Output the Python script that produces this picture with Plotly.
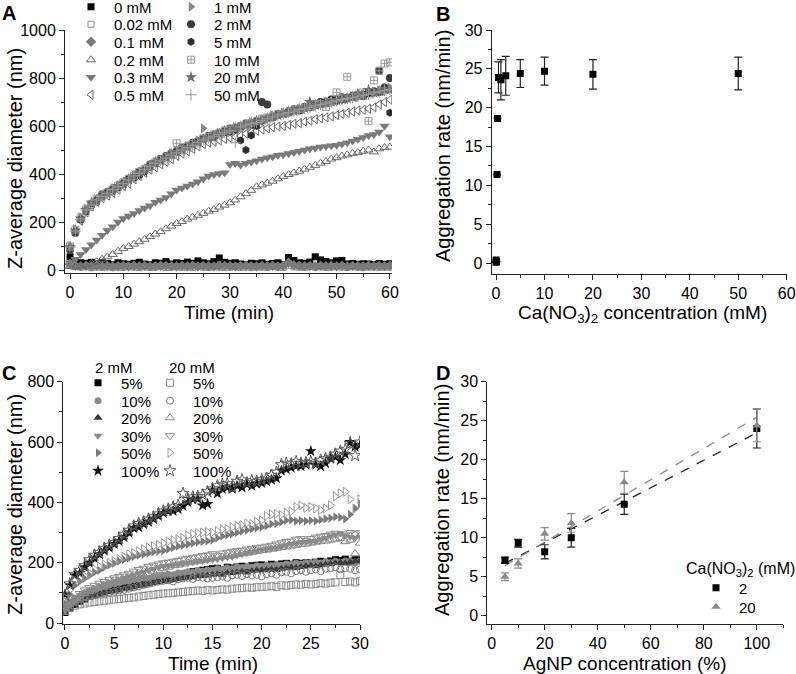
import numpy as np
import plotly.graph_objects as go

FONT = "Liberation Sans, Arial, sans-serif"
W, H = 796, 674

# ---------------- Panel A: Z-average diameter vs time, Ca(NO3)2 series
T_A = list(range(61))

A_0 = [55, 35, 30, 28, 32, 25, 30, 27, 22, 30,
       26, 24, 28, 32, 25, 22, 30, 28, 35, 25,
       30, 27, 33, 28, 38, 30, 26, 35, 50, 32,
       28, 30, 25, 22, 28, 26, 30, 24, 27, 30,
       22, 52, 40, 30, 28, 33, 55, 42, 35, 30,
       38, 40, 25, 27, 24, 26, 25, 23, 27, 24,
       26]
A_002 = [20, 15, 12, 14, 10, 12, 11, 13, 10, 12,
         11, 14, 12, 10, 13, 11, 12, 14, 10, 12,
         13, 11, 12, 10, 14, 12, 11, 13, 12, 10,
         12, 14, 11, 12, 10, 13, 12, 11, 14, 12,
         11, 18, 13, 12, 11, 14, 12, 13, 11, 12,
         14, 12, 11, 13, 12, 10, 12, 13, 11, 12,
         12]
A_01 = [25, 18, 16, 17, 15, 18, 16, 17, 15, 16,
        17, 15, 18, 16, 17, 15, 16, 18, 17, 16,
        15, 17, 16, 18, 15, 17, 16, 15, 18, 17,
        16, 15, 17, 18, 16, 15, 17, 16, 18, 15,
        17, 30, 20, 18, 16, 17, 15, 18, 16, 17,
        16, 18, 15, 17, 16, 15, 18, 16, 17, 16,
        17]
A_02 = [15, 12, 18, 22, 28, 35, 45, 55, 65, 78,
        90, 98, 108, 118, 128, 139, 150, 160, 172, 183,
        194, 202, 212, 220, 228, 236, 245, 252, 262, 270,
        280, 292, 305, 318, 332, 347, 355, 362, 370, 380,
        390, 398, 405, 412, 420, 428, 436, 445, 452, 462,
        468, 475, 480, 486, 490, 495, 500, 492, 505, 510,
        512]
A_03 = [30, 45, 65, 85, 105, 125, 145, 165, 180, 200,
        215, 225, 235, 248, 258, 268, 282, 292, 302, 318,
        333, 342, 350, 358, 368, 380, 392, 398, 402, 405,
        440, 445, 438, 445, 450, 455, 462, 468, 472, 478,
        480, 485, 490, 495, 500, 505, 508, 512, 515, 518,
        520, 525, 530, 538, 545, 552, 560, 565, 575, 600,
        555]
A_05 = [90, 160, 205, 240, 265, 285, 300, 310, 322, 335,
        350, 360, 378, 392, 405, 418, 428, 440, 450, 462,
        475, 485, 495, 505, 515, 525, 530, 535, 540, 545,
        550, 555, 560, 568, 575, 580, 585, 590, 595, 598,
        600, 605, 610, 612, 618, 622, 628, 632, 636, 640,
        645, 650, 655, 660, 665, 668, 672, 678, 690, 700,
        710]
A_1 = [100, 170, 220, 255, 270, 295, 312, 318, 340, 352,
       365, 372, 395, 400, 420, 435, 450, 460, 470, 485,
       498, 505, 518, 525, 540, 590, 555, 565, 570, 580,
       585, 595, 592, 608, 615, 620, 628, 630, 645, 642,
       655, 660, 662, 672, 670, 685, 682, 695, 700, 698,
       710, 715, 712, 725, 720, 730, 738, 735, 748, 745,
       760]
A_2 = [85, 155, 210, 245, 275, 290, 315, 325, 330, 345,
       360, 380, 385, 410, 415, 440, 445, 462, 475, 480,
       495, 510, 515, 530, 535, 548, 558, 555, 572, 575,
       590, 585, 600, 610, 605, 620, 700, 690, 635, 650,
       650, 655, 670, 665, 680, 678, 690, 700, 695, 710,
       705, 720, 715, 725, 730, 725, 740, 745, 830, 760,
       800]
A_5 = [92, 160, 212, 248, 270, 290, 305, 322, 338, 345,
       358, 378, 388, 395, 410, 428, 445, 455, 470, 488,
       492, 505, 515, 525, 535, 545, 552, 562, 568, 580,
       575, 585, 540, 500, 560, 600, 620, 630, 640, 648,
       650, 662, 668, 670, 678, 682, 688, 690, 700, 705,
       712, 708, 720, 718, 726, 732, 735, 742, 740, 755,
       655]
A_10 = [98, 168, 218, 252, 275, 295, 310, 322, 336, 350,
        365, 380, 392, 408, 420, 435, 448, 460, 470, 482,
        528, 502, 514, 525, 535, 548, 555, 565, 572, 580,
        585, 592, 598, 606, 612, 620, 628, 635, 640, 648,
        650, 658, 665, 670, 676, 682, 688, 692, 680, 700,
        740, 715, 805, 720, 730, 740, 620, 790, 830, 860,
        865]
A_20 = [95, 165, 215, 250, 280, 290, 310, 320, 335, 350,
        362, 378, 390, 405, 418, 435, 450, 455, 468, 482,
        492, 500, 512, 522, 532, 545, 550, 560, 568, 578,
        582, 590, 598, 602, 612, 620, 625, 632, 640, 645,
        652, 660, 662, 672, 675, 700, 688, 692, 698, 705,
        708, 712, 715, 722, 735, 728, 750, 738, 745, 755,
        750]
A_50 = [96, 162, 212, 250, 270, 292, 306, 318, 335, 347,
        360, 375, 392, 403, 418, 432, 444, 455, 466, 478,
        488, 500, 510, 520, 532, 542, 550, 557, 565, 572,
        580, 530, 596, 604, 610, 615, 622, 630, 638, 645,
        650, 656, 662, 668, 672, 678, 685, 690, 695, 700,
        705, 710, 714, 718, 722, 728, 732, 738, 742, 748,
        752]

# ---------------- Panel B: aggregation rate vs Ca(NO3)2
B_CONC = [0, 0.02, 0.1, 0.2, 0.3, 0.5, 1, 2, 5, 10, 20, 50]
B_RATE = [0.1, 0.4, 0.2, 11.4, 18.6, 23.9, 23.6, 24.1, 24.4, 24.7, 24.3, 24.4]
B_ERR = [0, 0, 0, 0, 0, 2.0, 2.6, 2.5, 1.8, 1.8, 1.9, 2.1]

# ---------------- Panel C: Z-average diameter vs time, AgNP concentration
T_C = [i * 0.5 for i in range(61)]

C2_5 = [35, 50, 62, 72, 80, 88, 95, 100, 106, 110,
        115, 118, 122, 125, 128, 132, 136, 140, 143, 146,
        150, 153, 156, 160, 163, 166, 170, 172, 175, 178,
        180, 182, 178, 185, 183, 186, 188, 185, 190, 192,
        193, 190, 195, 192, 196, 198, 195, 200, 198, 200,
        199, 202, 205, 200, 206, 210, 208, 212, 205, 210,
        210]
C2_10 = [55, 70, 82, 90, 100, 106, 110, 118, 120, 126,
         130, 133, 138, 139, 144, 145, 150, 148, 154, 155,
         158, 162, 160, 166, 165, 170, 168, 174, 172, 176,
         175, 180, 178, 183, 180, 186, 184, 188, 185, 190,
         188, 192, 190, 194, 192, 196, 194, 198, 195, 200,
         198, 202, 199, 204, 200, 205, 202, 206, 204, 200,
         205]
C2_20 = [35, 50, 62, 72, 80, 86, 90, 95, 98, 102,
         105, 108, 112, 115, 118, 122, 125, 128, 132, 135,
         138, 140, 142, 145, 148, 150, 152, 155, 156, 158,
         160, 162, 160, 165, 166, 168, 170, 168, 172, 174,
         175, 176, 178, 176, 180, 182, 184, 183, 186, 188,
         190, 188, 192, 194, 196, 198, 200, 198, 202, 205,
         206]
C2_30 = [40, 60, 75, 85, 100, 108, 115, 122, 130, 135,
         140, 145, 150, 155, 160, 165, 170, 175, 180, 185,
         188, 190, 192, 195, 198, 200, 202, 205, 206, 208,
         210, 212, 215, 218, 220, 225, 228, 232, 236, 240,
         243, 245, 248, 250, 255, 258, 262, 265, 268, 270,
         270, 272, 278, 282, 288, 292, 298, 290, 285, 282,
         287]
C2_50 = [65, 95, 125, 138, 148, 158, 168, 175, 185, 192,
         198, 205, 210, 215, 220, 225, 228, 232, 236, 238,
         240, 245, 250, 255, 258, 262, 265, 268, 270, 272,
         275, 282, 288, 292, 296, 300, 305, 308, 312, 315,
         318, 322, 328, 330, 335, 340, 342, 338, 340, 338,
         340, 338, 342, 345, 348, 352, 350, 345, 360, 380,
         395]
C2_100 = [95, 125, 158, 165, 185, 200, 215, 228, 240, 250,
          262, 272, 285, 300, 315, 318, 328, 335, 345, 355,
          365, 370, 372, 378, 388, 400, 410, 412, 390, 395,
          440, 430, 445, 450, 445, 455, 450, 460, 455, 462,
          465, 470, 475, 480, 505, 510, 515, 520, 520, 525,
          570, 525, 520, 530, 545, 550, 540, 560, 600, 585,
          590]
C20_5 = [40, 52, 58, 62, 65, 68, 70, 72, 74, 76,
         78, 80, 82, 84, 85, 88, 90, 92, 94, 96,
         98, 99, 100, 102, 103, 105, 106, 108, 107, 110,
         108, 110, 112, 111, 114, 115, 116, 118, 117, 119,
         120, 121, 122, 120, 125, 124, 126, 128, 127, 130,
         128, 130, 132, 131, 134, 135, 160, 136, 138, 135,
         140]
C20_10 = [48, 62, 72, 80, 86, 90, 94, 97, 100, 102,
          104, 108, 110, 114, 118, 122, 126, 130, 134, 138,
          140, 142, 138, 145, 148, 150, 146, 152, 150, 148,
          150, 152, 155, 150, 158, 160, 156, 162, 158, 160,
          155, 162, 165, 160, 168, 170, 165, 172, 175, 170,
          175, 178, 172, 180, 182, 185, 178, 182, 180, 175,
          178]
C20_20 = [50, 68, 80, 90, 98, 105, 112, 118, 122, 128,
          132, 136, 140, 145, 150, 155, 160, 165, 170, 175,
          180, 185, 190, 192, 196, 200, 202, 205, 208, 212,
          215, 218, 220, 222, 225, 228, 230, 232, 235, 238,
          240, 242, 245, 248, 250, 252, 255, 258, 260, 262,
          265, 268, 270, 272, 275, 278, 280, 270, 275, 230,
          265]
C20_30 = [50, 70, 85, 98, 110, 118, 125, 132, 138, 145,
          150, 155, 160, 165, 172, 178, 182, 188, 192, 196,
          200, 202, 205, 208, 212, 215, 218, 220, 224, 226,
          230, 225, 232, 235, 238, 240, 242, 245, 248, 250,
          252, 255, 258, 262, 266, 270, 272, 278, 280, 275,
          280, 285, 288, 290, 295, 298, 285, 292, 300, 295,
          300]
C20_50 = [85, 110, 140, 148, 155, 165, 178, 188, 195, 200,
          205, 212, 220, 228, 232, 238, 245, 250, 255, 260,
          265, 270, 275, 278, 282, 290, 295, 298, 300, 302,
          300, 305, 310, 312, 318, 322, 325, 330, 328, 335,
          340, 355, 360, 362, 358, 365, 370, 385, 390, 382,
          385, 380, 375, 380, 390, 420, 430, 435, 410, 380,
          410]
C20_100 = [92, 130, 162, 175, 190, 210, 225, 235, 248, 258,
           268, 280, 295, 308, 322, 330, 335, 345, 352, 362,
           372, 378, 385, 390, 430, 410, 418, 420, 425, 435,
           445, 455, 460, 462, 450, 470, 475, 465, 472, 470,
           475, 480, 490, 500, 525, 530, 528, 535, 530, 532,
           535, 530, 540, 545, 550, 560, 570, 575, 595, 555,
           600]

# ---------------- Panel D: aggregation rate vs AgNP concentration
D_AGNP = [5, 10, 20, 30, 50, 100]
D_RATE_2 = [7.1, 9.3, 8.2, 10.0, 14.3, 24.0]
D_ERR_2 = [0.4, 0.5, 0.9, 1.2, 1.3, 2.5]
D_RATE_20 = [5.0, 6.7, 10.5, 11.9, 17.1, 24.4]
D_ERR_20 = [0.5, 0.6, 0.8, 1.2, 1.4, 2.1]


def px(x):
    return x / W


def py(y):
    return 1 - y / H


fig = go.Figure()
legends = {}


def new_legend(mx, my):
    # one legend per row so that rows can sit as tight as in the original
    n = len(legends) + 1
    key = "legend" if n == 1 else "legend%d" % n
    legends[key] = dict(x=px(mx - 25), y=py(my), xanchor="left", yanchor="middle",
                        bgcolor="rgba(0,0,0,0)", itemwidth=36, itemclick=False,
                        font=dict(size=15, color="black", family=FONT))
    return key


def add_series(x, y, name, symbol, color, size, xa, ya, pos, lw=None):
    if lw is None:
        lw = 1 if "open" in symbol else 0
    fig.add_trace(go.Scatter(
        x=x, y=y, name=name, mode="markers", xaxis=xa, yaxis=ya, legend=new_legend(*pos),
        marker=dict(symbol=symbol, color=color, size=size,
                    line=dict(width=lw, color=color))))


ROWS_A = [7, 24.5, 42, 60, 77.5, 95]
ROWS_C = [383, 401, 418, 436, 453, 471]

# panel A
a_series = [
    (A_0, "0 mM", "square", "#000000", 7),
    (A_002, "0.02 mM", "square-open", "#8a8a8a", 6),
    (A_01, "0.1 mM", "diamond", "#7a7a7a", 8),
    (A_02, "0.2 mM", "triangle-up-open", "#6a6a6a", 8),
    (A_03, "0.3 mM", "triangle-down", "#7a7a7a", 9),
    (A_05, "0.5 mM", "triangle-left-open", "#6a6a6a", 8),
    (A_1, "1 mM", "triangle-right", "#8a8a8a", 9),
    (A_2, "2 mM", "circle", "#3c3c3c", 8),
    (A_5, "5 mM", "hexagon", "#2e2e2e", 8),
    (A_10, "10 mM", "square-cross-open", "#9a9a9a", 7),
    (A_20, "20 mM", "star", "#6e6e6e", 9),
    (A_50, "50 mM", "cross-thin-open", "#9a9a9a", 8),
]
for i, (y, name, sym, col, size) in enumerate(a_series):
    pos = (93 if i < 6 else 193, ROWS_A[i % 6])
    add_series(T_A, y, name, sym, col, size, "x", "y", pos)

# panel B
fig.add_trace(go.Scatter(
    x=B_CONC, y=B_RATE, mode="markers", xaxis="x2", yaxis="y2", showlegend=False,
    marker=dict(symbol="square", color="black", size=7),
    error_y=dict(type="data", array=B_ERR, color="#222222", thickness=1.2, width=4)))

# panel C
c_series = [
    (C2_5, "5%", "square", "#000000", 7),
    (C2_10, "10%", "circle", "#8a8a8a", 7),
    (C2_20, "20%", "triangle-up", "#3c3c3c", 8),
    (C2_30, "30%", "triangle-down", "#8a8a8a", 8),
    (C2_50, "50%", "triangle-right", "#7a7a7a", 8),
    (C2_100, "100%", "star", "#111111", 9),
    (C20_5, "5%", "square-open", "#8a8a8a", 7),
    (C20_10, "10%", "circle-open", "#7a7a7a", 7),
    (C20_20, "20%", "triangle-up-open", "#8a8a8a", 8),
    (C20_30, "30%", "triangle-down-open", "#8a8a8a", 8),
    (C20_50, "50%", "triangle-right-open", "#9a9a9a", 8),
    (C20_100, "100%", "star-open", "#5a5a5a", 9),
]
for i, (y, name, sym, col, size) in enumerate(c_series):
    pos = (100 if i < 6 else 172, ROWS_C[i % 6])
    add_series(T_C, y, name, sym, col, size, "x3", "y3", pos)

# panel D: linear fits first, then points
x_fit = np.array([min(D_AGNP), max(D_AGNP)])
for rates, col in [(D_RATE_2, "#222222"), (D_RATE_20, "#8a8a8a")]:
    k, b = np.polyfit(D_AGNP, rates, 1)
    fig.add_trace(go.Scatter(x=x_fit, y=k * x_fit + b, mode="lines", xaxis="x4", yaxis="y4",
                             showlegend=False, line=dict(color=col, width=1.3, dash="dash")))
fig.add_trace(go.Scatter(
    x=D_AGNP, y=D_RATE_2, name="2", mode="markers", xaxis="x4", yaxis="y4",
    legend=new_legend(718, 588), marker=dict(symbol="square", color="black", size=7),
    error_y=dict(type="data", array=D_ERR_2, color="#222222", thickness=1.2, width=4)))
fig.add_trace(go.Scatter(
    x=D_AGNP, y=D_RATE_20, name="20", mode="markers", xaxis="x4", yaxis="y4",
    legend=new_legend(718, 607), marker=dict(symbol="triangle-up", color="#8a8a8a", size=8),
    error_y=dict(type="data", array=D_ERR_20, color="#8a8a8a", thickness=1.2, width=4)))


def axis(x0, x1, rng, dtick, minor, anchor, vertical=False):
    dom = [py(x1), py(x0)] if vertical else [px(x0), px(x1)]
    return dict(domain=dom, range=rng, anchor=anchor, showline=True, linecolor="#222222",
                linewidth=1, ticks="outside", ticklen=5, tickwidth=1, tickcolor="#222222",
                tick0=0, dtick=dtick,
                minor=dict(ticks="outside", ticklen=3, tick0=0, dtick=minor, tickcolor="#222222"),
                showgrid=False, zeroline=False, fixedrange=True, automargin=False,
                tickfont=dict(size=16, color="black", family=FONT))


def note(text, x, y, size=19, angle=0, bold=False, xanchor="center", yanchor="middle"):
    if bold:
        text = "<b>" + text + "</b>"
    return dict(text=text, x=px(x), y=py(y), xref="paper", yref="paper", showarrow=False,
                textangle=angle, xanchor=xanchor, yanchor=yanchor,
                font=dict(size=size, color="black", family=FONT))


fig.update_layout(
    width=W, height=H, margin=dict(l=0, r=0, t=0, b=0, autoexpand=False),
    paper_bgcolor="white", plot_bgcolor="white",
    font=dict(family=FONT, color="black"),
    xaxis=axis(65, 392, [-0.94, 60.4], 10, 5, "y"),
    yaxis=axis(30, 273, [-12.5, 1000], 200, 100, "x", vertical=True),
    xaxis2=axis(491.7, 786.7, [-0.9, 60], 10, 5, "y2"),
    yaxis2=axis(30, 274, [-1.4, 30], 5, 2.5, "x2", vertical=True),
    xaxis3=axis(63.3, 360, [-0.17, 30], 5, 2.5, "y3"),
    yaxis3=axis(381.7, 624, [-3, 800], 200, 100, "x3", vertical=True),
    xaxis4=axis(487.3, 783.3, [-1.66, 110], 20, 10, "y4"),
    yaxis4=axis(381.7, 624, [-1.06, 30], 5, 2.5, "x4", vertical=True),
    annotations=[
        note("A", 0, 0, size=20, bold=True, xanchor="left", yanchor="top"),
        note("B", 434, 1, size=20, bold=True, xanchor="left", yanchor="top"),
        note("C", 0, 360, size=20, bold=True, xanchor="left", yanchor="top"),
        note("D", 434, 360, size=20, bold=True, xanchor="left", yanchor="top"),
        note("Z-average diameter (nm)", 15, 159, size=20, angle=-90),
        note("Time (min)", 229, 312),
        note("Aggregation rate (nm/min)", 443, 146, size=20, angle=-90),
        note("Ca(NO<sub>3</sub>)<sub>2</sub> concentration (mM)", 642, 314),
        note("Z-average diameter (nm)", 15, 505, size=20, angle=-90),
        note("Time (min)", 213, 663),
        note("Aggregation rate (nm/min)", 442, 500, size=20, angle=-90),
        note("AgNP concentration (%)", 624, 663),
        note("2 mM", 93, 367, size=15, xanchor="left"),
        note("20 mM", 167, 367, size=15, xanchor="left"),
        note("Ca(NO<sub>3</sub>)<sub>2</sub> (mM)", 684, 569, size=16, xanchor="left"),
    ],
)
fig.update_layout(**legends)

# the page body keeps its default 8px margin otherwise
fig.write_html("out.html", config={"displayModeBar": False},
               post_script="document.body.style.margin = '0px';")
